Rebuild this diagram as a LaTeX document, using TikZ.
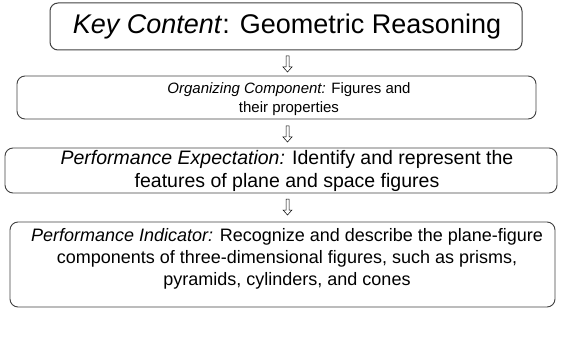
\documentclass[tikz,border=0pt]{standalone}
\usepackage{fontspec}
\setmainfont{Liberation Sans}
\begin{document}
\begin{tikzpicture}[x=1pt,y=-1pt,
  box/.style={draw=black!75, line width=0.9pt, rounded corners=8pt, inner sep=0pt},
  txt/.style={align=center},
  hollowarrow/.style={draw=black, line width=0.5pt, fill=white}]
\useasboundingbox (0,0) rectangle (573,350);
% boxes
\draw[box, line width=1pt] (50,3) rectangle (522,50);
\node[font=\fontsize{27}{32}\selectfont] (b1) at (287,27) {\textit{Key Content}: Geometric Reasoning};
\draw[box] (17,76) rectangle (536,119);
\node[txt, font=\fontsize{15}{19}\selectfont] (b2) at (289,99) {\textit{Organizing Component:} Figures and\\their properties};
\draw[box] (5,148) rectangle (557,193);
\node[txt, font=\fontsize{19.5}{23}\selectfont] (b3) at (287,170.5) {\textit{Performance Expectation:} Identify and represent the\\features of plane and space figures};
\draw[box] (10,222) rectangle (555,307);
\node[txt, font=\fontsize{18}{22}\selectfont] (b4) at (287,259) {\textit{Performance Indicator:} Recognize and describe the plane-figure\\components of three-dimensional figures, such as prisms,\\pyramids, cylinders, and cones};
% arrows
\foreach \y in {56,126,199}{
  \draw[hollowarrow] (286,\y) -- (289,\y) -- (289,\y+11) -- (292,\y+11) -- (287.5,\y+16) -- (283,\y+11) -- (286,\y+11) -- cycle;
}
\end{tikzpicture}
\end{document}
